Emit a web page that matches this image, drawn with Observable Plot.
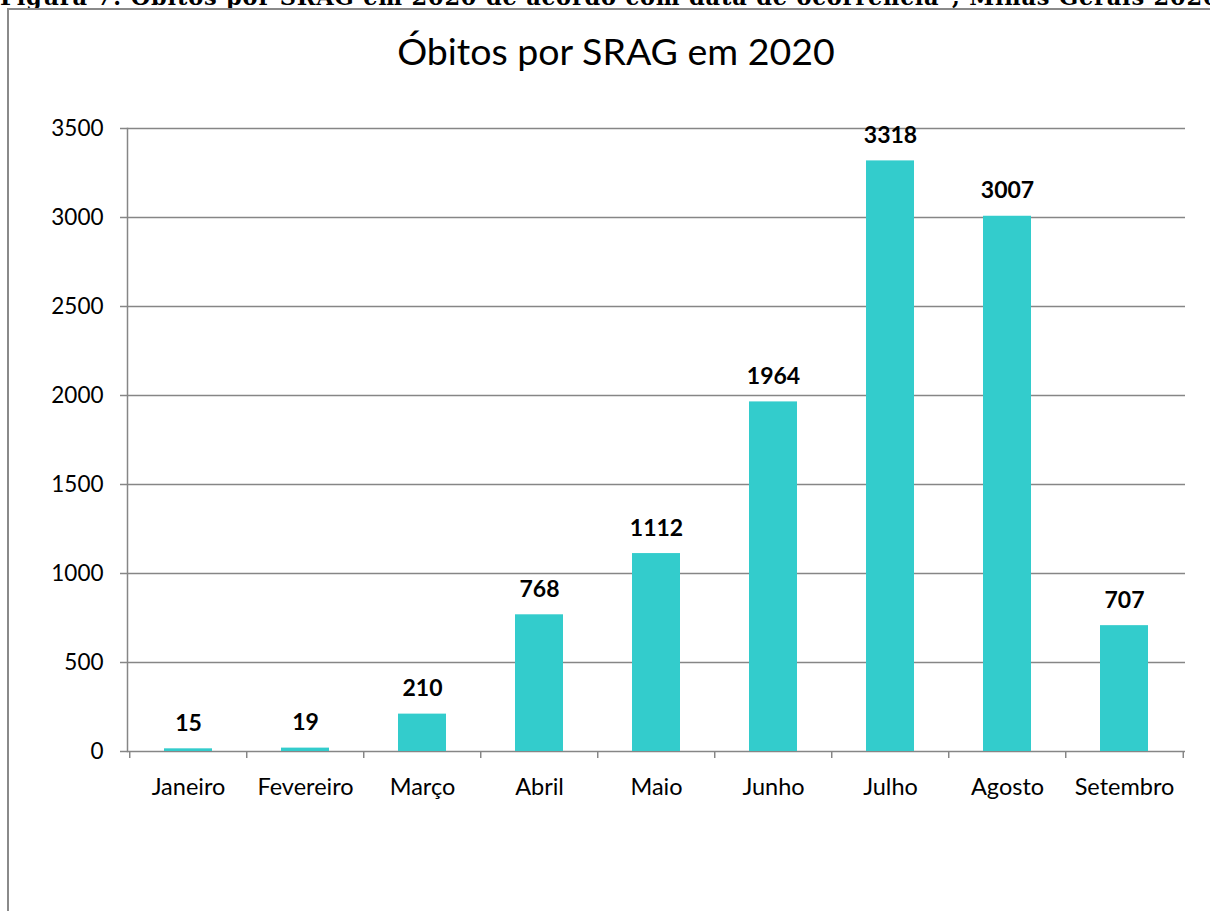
<!DOCTYPE html>
<html>
<head>
<meta charset="utf-8">
<script src="https://cdn.jsdelivr.net/npm/d3@7"></script>
<script src="https://cdn.jsdelivr.net/npm/@observablehq/plot@0.6"></script>
<style>
  html, body { margin: 0; padding: 0; background: #fff; }
  body { width: 1210px; height: 911px; position: relative; overflow: hidden; font-family: Lato, "Open Sans", sans-serif; }
  #header { position: absolute; left: 0; top: -15px; white-space: nowrap; font-family: "DejaVu Serif", serif; font-weight: bold; font-size: 22.5px; line-height: 24px; color: #000; letter-spacing: 0.8px; }
  #frame { position: absolute; left: 7px; top: 8px; width: 1300px; height: 1000px; border-left: 2px solid #8a8a8a; border-top: 2px solid #8a8a8a; }
  #title { position: absolute; left: 0; width: 1232px; top: 28px; text-align: center; font-size: 37.5px; line-height: 46px; color: #000; }
  #chart { position: absolute; left: 0; top: 0; }
</style>
</head>
<body>
<div id="header">Figura 7: Óbitos por SRAG em 2020 de acordo com data de ocorrência*, Minas Gerais 2020</div>
<div id="frame"></div>
<div id="chart"></div>
<div id="title">Óbitos por SRAG em 2020</div>
<script>
const months = ["Janeiro", "Fevereiro", "Março", "Abril", "Maio", "Junho", "Julho", "Agosto", "Setembro"];
const deaths = [15, 19, 210, 768, 1112, 1964, 3318, 3007, 707];
const yTicks = [0, 500, 1000, 1500, 2000, 2500, 3000, 3500];

const data = months.map((m, i) => ({month: m, value: deaths[i]}));

const W = 1210, H = 911, ML = 127, MR = 25, MT = 128, MB = 160;
const step = (W - ML - MR) / months.length;
const gray = "#868686";

const chart = Plot.plot({
  width: W,
  height: H,
  marginLeft: ML,
  marginRight: MR,
  marginTop: MT,
  marginBottom: MB,
  style: {fontFamily: "Lato, 'Open Sans', sans-serif", fontSize: "22px", color: "#000", background: "transparent", overflow: "visible"},
  x: {domain: months, paddingInner: 0.592, paddingOuter: 0.296, label: null},
  y: {domain: [0, 3500], label: null},
  marks: [
    Plot.ruleY(yTicks, {stroke: gray, strokeWidth: 1.5, insetLeft: -7}),
    Plot.frame({anchor: "left", stroke: gray, strokeWidth: 1.5}),
    Plot.barY(data, {x: "month", y: "value", fill: "#33CCCC"}),
    Plot.ruleX(months, {x: d => d, y1: 0, y2: 0, insetBottom: -7, dx: -step / 2, stroke: gray, strokeWidth: 1.5}),
    Plot.ruleX(months.slice(-1), {x: d => d, y1: 0, y2: 0, insetBottom: -7, dx: step / 2, stroke: gray, strokeWidth: 1.5}),
    Plot.axisY(yTicks, {tickSize: 0, tickPadding: 24, fontSize: 22.5, tickFormat: d => String(d)}),
    Plot.axisX({tickSize: 0, tickPadding: 27, fontSize: 23.5}),
    Plot.text(data, {x: "month", y: "value", text: d => String(d.value), lineAnchor: "bottom", dy: -18, fontWeight: "bold", fontSize: 23, fill: "#000"})
  ]
});
document.getElementById("chart").appendChild(chart);
</script>
</body>
</html>
